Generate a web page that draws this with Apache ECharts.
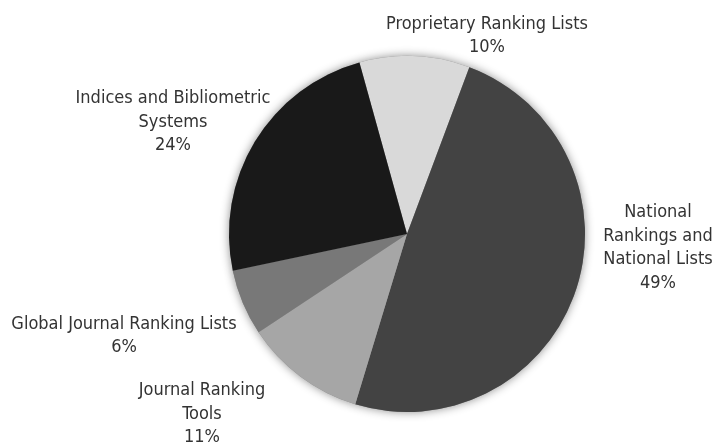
<!DOCTYPE html>
<html>
<head>
<meta charset="utf-8">
<script src="https://cdn.jsdelivr.net/npm/echarts@6/dist/echarts.min.js"></script>
<style>html,body{margin:0;padding:0;background:#fff;}#c{width:714px;height:446px;}</style>
</head>
<body>
<div id="c"></div>
<script>
const categories = ['Proprietary Ranking Lists', 'National Rankings and National Lists', 'Journal Ranking Tools', 'Global Journal Ranking Lists', 'Indices and Bibliometric Systems'];
const labelText = ['Proprietary Ranking Lists', 'National\nRankings and\nNational Lists', 'Journal Ranking\nTools', 'Global Journal Ranking Lists', 'Indices and Bibliometric\nSystems'];
const values = [10, 49, 11, 6, 24];
const colors = ['#d9d9d9', '#434343', '#a6a6a6', '#787878', '#191919'];
const labelPos = [[487, 36], [658, 248], [202, 414], [124, 336], [173, 122]];

const chart = echarts.init(document.getElementById('c'), null, {renderer: 'canvas'});
const pieBase = {
  type: 'pie',
  center: [407, 234],
  radius: [0, 178],
  startAngle: 105.5,
  clockwise: true,
  avoidLabelOverlap: false,
  emphasis: {disabled: true}
};
chart.setOption({
  animation: false,
  backgroundColor: '#ffffff',
  series: [
    Object.assign({}, pieBase, {
      z: 1,
      silent: true,
      data: categories.map((c, i) => ({name: c, value: values[i]})),
      itemStyle: {color: '#888', borderWidth: 0, shadowBlur: 10, shadowColor: 'rgba(0,0,0,0.45)'},
      label: {show: false},
      labelLine: {show: false}
    }),
    Object.assign({}, pieBase, {
      z: 2,
      data: categories.map((c, i) => ({name: c, value: values[i], itemStyle: {color: colors[i]}})),
      itemStyle: {borderWidth: 0},
      label: {
        show: true,
        position: 'outside',
        formatter: p => labelText[p.dataIndex] + '\n' + values[p.dataIndex] + '%',
        fontFamily: '"Liberation Sans Narrow", "DejaVu Sans Condensed", "Noto Sans", sans-serif',
        fontSize: 18,
        lineHeight: 23.5,
        color: '#333333',
        align: 'center'
      },
      labelLine: {show: false},
      labelLayout: p => ({x: labelPos[p.dataIndex][0], y: labelPos[p.dataIndex][1], align: 'center', verticalAlign: 'middle'})
    })
  ]
});
</script>
</body>
</html>
